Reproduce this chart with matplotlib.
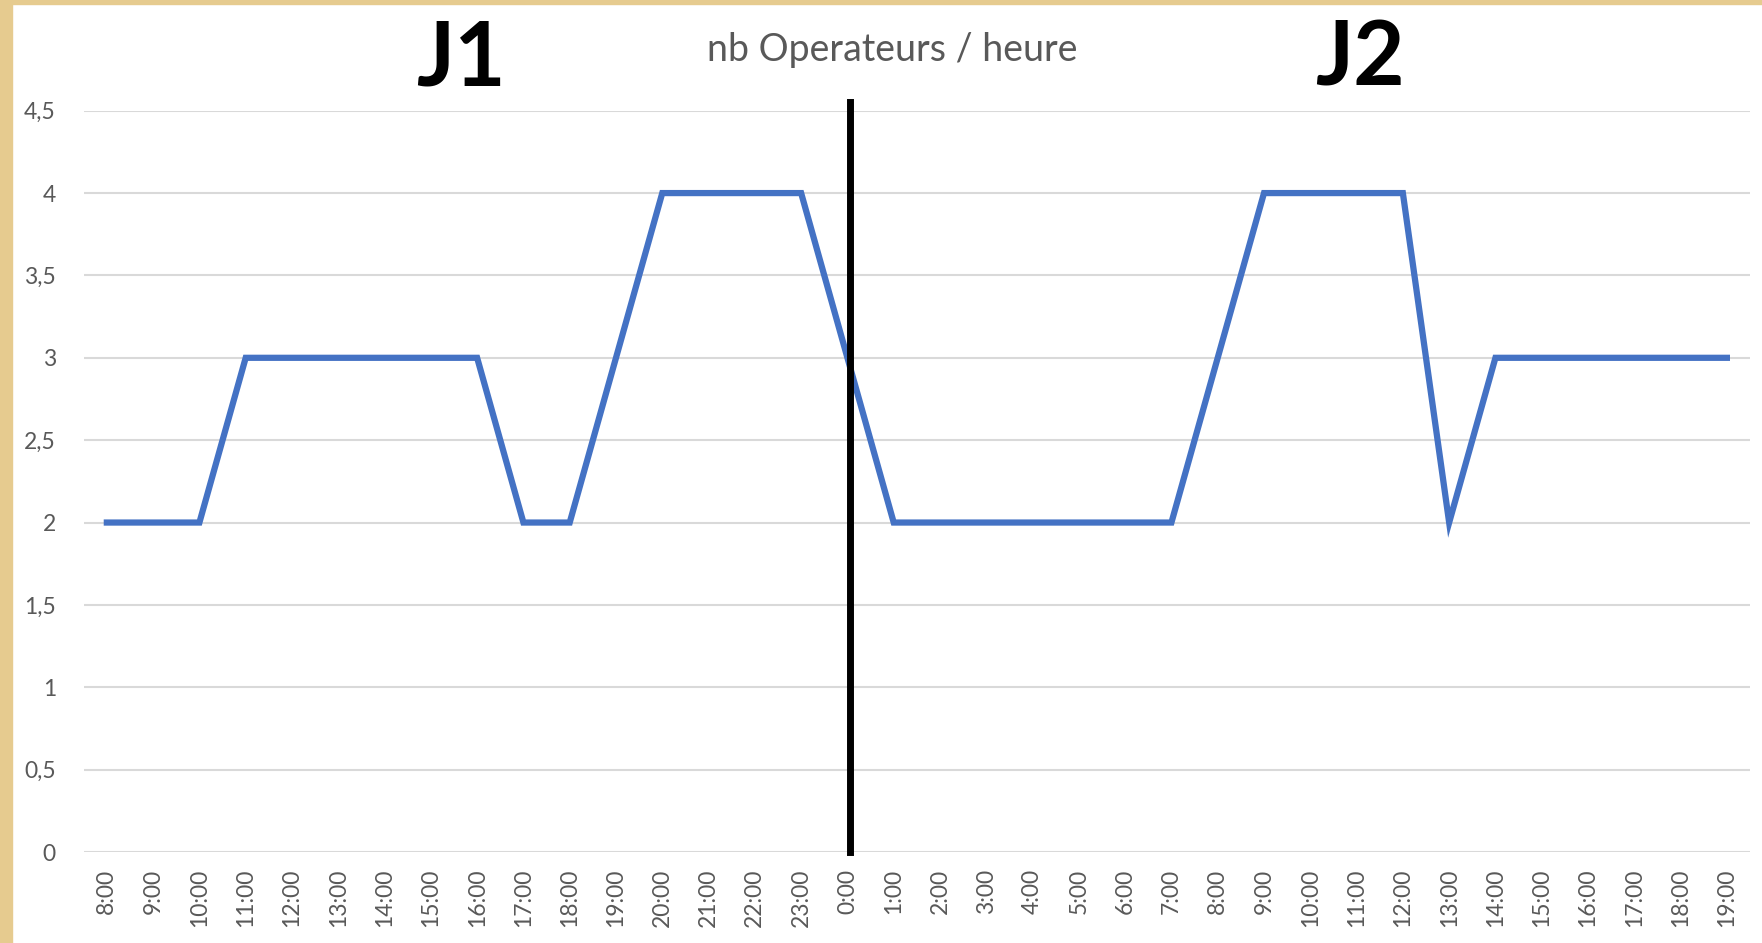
import matplotlib.pyplot as plt
from matplotlib.patches import Rectangle

# hourly operator counts, day 1 (J1) 8:00 -> day 2 (J2) 19:00
hours = [f"{h}:00" for h in list(range(8, 24)) + list(range(0, 20))]
operateurs = [2, 2, 2, 3, 3, 3, 3, 3, 3, 2, 2, 3, 4, 4, 4, 4,
              3, 2, 2, 2, 2, 2, 2, 2, 3, 4, 4, 4, 4, 2, 3, 3, 3, 3, 3, 3]
y_ticks = [0, 0.5, 1, 1.5, 2, 2.5, 3, 3.5, 4, 4.5]
y_labels = ["0", "0,5", "1", "1,5", "2", "2,5", "3", "3,5", "4", "4,5"]
day_split = 16.05  # separator drawn just after 0:00

plt.rcParams['font.family'] = ['Lato', 'DejaVu Sans']

fig = plt.figure(figsize=(17.62, 9.43), dpi=100)
fig.patch.set_facecolor('white')
# parchment border strips (left and top)
fig.patches.append(Rectangle((0, 0), 12 / 1762, 1, transform=fig.transFigure,
                             color='#e6cb8f', zorder=0))
fig.patches.append(Rectangle((0, 1 - 4 / 943), 1, 4 / 943, transform=fig.transFigure,
                             color='#e6cb8f', zorder=0))

ax = fig.add_axes([0.0475, 0.0965, 0.9457, 0.7861])
x = list(range(len(hours)))
ax.plot(x, operateurs, color='#4472C4', linewidth=4.5, solid_joinstyle='miter', zorder=3)
ax.plot([day_split, day_split], [0, 4.55], color='black', linewidth=5, clip_on=False, zorder=4)

ax.set_xlim(-0.5, len(hours) - 0.5)
ax.set_ylim(0, 4.5)
ax.set_yticks(y_ticks)
ax.set_yticklabels(y_labels)
ax.set_xticks(x)
ax.set_xticklabels(hours, rotation=90)
ax.tick_params(axis='both', length=0, colors='#595959', labelsize=16.5)
ax.tick_params(axis='y', pad=20)
ax.tick_params(axis='x', pad=12)
ax.grid(axis='y', color='#d9d9d9', linewidth=1.5)
ax.set_axisbelow(True)
for s in ax.spines.values():
    s.set_visible(False)

fig.text(892 / 1762, 1 - 50 / 943, "nb Operateurs / heure", ha='center', va='center',
         fontsize=27, color='#595959')
fig.text(461 / 1762, 1 - 60 / 943, "J1", ha='center', va='center',
         fontsize=64, fontweight='bold', color='black')
fig.text(1360 / 1762, 1 - 60 / 943, "J2", ha='center', va='center',
         fontsize=64, fontweight='bold', color='black')

fig.savefig('out.png', dpi=100)
